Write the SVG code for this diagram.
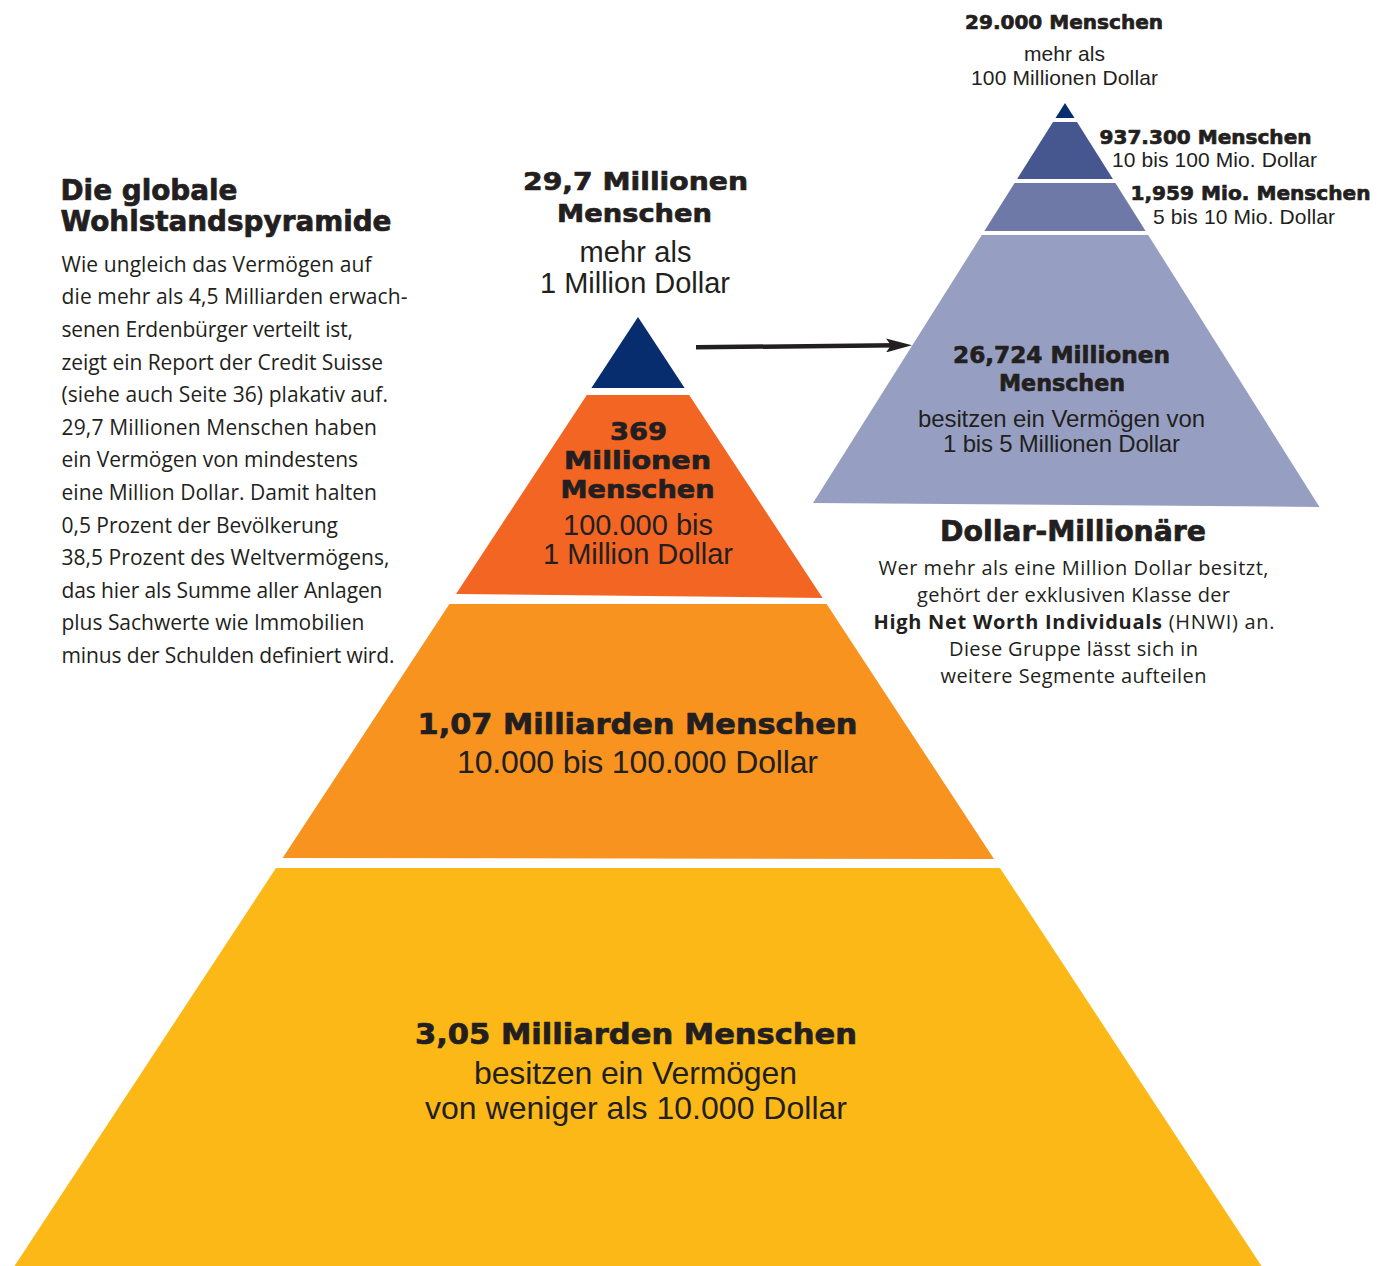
<svg xmlns="http://www.w3.org/2000/svg" width="1385" height="1266" viewBox="0 0 1385 1266">
<style>
.bg{fill:#ffffff}
.t{fill:#231f20}
.hb{font-family:"DejaVu Sans","Liberation Sans",sans-serif;font-weight:bold;stroke:#231f20;stroke-width:0.7px;stroke-linejoin:round}
.ar{font-family:"Liberation Sans",Arial,sans-serif}
.os{font-family:"Open Sans","Noto Sans",sans-serif}
.m{text-anchor:middle}
.navy{fill:#072d6e}
.or1{fill:#f26522}
.or2{fill:#f7931e}
.yel{fill:#fbb817}
.b2{fill:#45578e}
.b3{fill:#6e79a7}
.b4{fill:#969fc2}
</style>
<defs>
<marker id="ah" markerUnits="userSpaceOnUse" viewBox="0 0 26 14" refX="11" refY="7" markerWidth="26" markerHeight="14" orient="auto">
<path d="M0,0 L26,7 L0,14 L5,7 Z" fill="#231f20"/>
</marker>
</defs>
<rect class="bg" x="0" y="0" width="1385" height="1266"/>

<g id="intro">
<text class="t hb" font-size="27.5" x="60.5" y="200" textLength="177" lengthAdjust="spacingAndGlyphs">Die globale</text>
<text class="t hb" font-size="27.5" x="60.5" y="231" textLength="331" lengthAdjust="spacingAndGlyphs">Wohlstandspyramide</text>
<g class="t os" font-size="21">
<text x="61.5" y="271.7" textLength="310">Wie ungleich das Vermögen auf</text>
<text x="61.5" y="304.3" textLength="346">die mehr als 4,5 Milliarden erwach-</text>
<text x="61.5" y="336.9" textLength="291.5">senen Erdenbürger verteilt ist,</text>
<text x="61.5" y="369.5" textLength="321.5">zeigt ein Report der Credit Suisse</text>
<text x="61.5" y="402.1" textLength="326.5">(siehe auch Seite 36) plakativ auf.</text>
<text x="61.5" y="434.7" textLength="315.5">29,7 Millionen Menschen haben</text>
<text x="61.5" y="467.3" textLength="296.5">ein Vermögen von mindestens</text>
<text x="61.5" y="499.9" textLength="315.5">eine Million Dollar. Damit halten</text>
<text x="61.5" y="532.5" textLength="276.5">0,5 Prozent der Bevölkerung</text>
<text x="61.5" y="565.1" textLength="328">38,5 Prozent des Weltvermögens,</text>
<text x="61.5" y="597.7" textLength="321">das hier als Summe aller Anlagen</text>
<text x="61.5" y="630.3" textLength="303">plus Sachwerte wie Immobilien</text>
<text x="61.5" y="662.9" textLength="333">minus der Schulden definiert wird.</text>
</g>
</g>

<g id="top-main">
<polygon class="navy" points="638,317 684.6,388 591.4,388"/>
<text class="t hb m" font-size="25.5" x="635.5" y="190" textLength="225" lengthAdjust="spacingAndGlyphs">29,7 Millionen</text>
<text class="t hb m" font-size="25.5" x="634.5" y="222" textLength="155" lengthAdjust="spacingAndGlyphs">Menschen</text>
<text class="t ar m" font-size="29" x="635.5" y="262" textLength="112">mehr als</text>
<text class="t ar m" font-size="29" x="635" y="292.5" textLength="190">1 Million Dollar</text>
</g>

<g id="band-369">
<polygon class="or1" points="586.8,395 689.2,395 822.6,598 456,594"/>
<text class="t hb m" font-size="25" x="638.5" y="440" textLength="57" lengthAdjust="spacingAndGlyphs">369</text>
<text class="t hb m" font-size="25" x="637.5" y="469" textLength="147" lengthAdjust="spacingAndGlyphs">Millionen</text>
<text class="t hb m" font-size="25" x="637.5" y="498" textLength="154" lengthAdjust="spacingAndGlyphs">Menschen</text>
<text class="t ar m" font-size="29" x="638" y="535" textLength="150">100.000 bis</text>
<text class="t ar m" font-size="29" x="638" y="564" textLength="190">1 Million Dollar</text>
</g>

<g id="band-107">
<polygon class="or2" points="449.4,604 826.6,604 994,859 282.6,858"/>
<text class="t hb m" font-size="28.5" x="637.5" y="734" textLength="440" lengthAdjust="spacingAndGlyphs">1,07 Milliarden Menschen</text>
<text class="t ar m" font-size="32" x="637.5" y="773" textLength="361">10.000 bis 100.000 Dollar</text>
</g>

<g id="band-305">
<polygon class="yel" points="276,868 1000,868 1261.5,1266 14.5,1266"/>
<text class="t hb m" font-size="28.5" x="636" y="1044" textLength="442" lengthAdjust="spacingAndGlyphs">3,05 Milliarden Menschen</text>
<text class="t ar m" font-size="32" x="635.5" y="1084" textLength="323">besitzen ein Vermögen</text>
<text class="t ar m" font-size="32" x="636" y="1119" textLength="422">von weniger als 10.000 Dollar</text>
</g>

<g id="hnwi-top">
<polygon class="navy" points="1065,103 1074.5,118 1055.5,118"/>
<text class="t hb m" font-size="20" x="1064" y="29" textLength="198" lengthAdjust="spacingAndGlyphs">29.000 Menschen</text>
<text class="t ar m" font-size="21" x="1064.5" y="61" textLength="81">mehr als</text>
<text class="t ar m" font-size="21" x="1064.5" y="84.5" textLength="187">100 Millionen Dollar</text>
</g>

<g id="hnwi-937">
<polygon class="b2" points="1053,122 1077,122 1112.9,179 1017.1,179"/>
<text class="t hb" font-size="20" x="1099.5" y="144" textLength="212" lengthAdjust="spacingAndGlyphs">937.300 Menschen</text>
<text class="t ar" font-size="21" x="1112" y="167" textLength="205">10 bis 100 Mio. Dollar</text>
</g>

<g id="hnwi-1959">
<polygon class="b3" points="1014.6,183 1115.4,183 1145.6,231 984.4,231"/>
<text class="t hb" font-size="20" x="1130.5" y="200" textLength="240" lengthAdjust="spacingAndGlyphs">1,959 Mio. Menschen</text>
<text class="t ar" font-size="21" x="1153" y="223.5" textLength="182">5 bis 10 Mio. Dollar</text>
</g>

<g id="hnwi-26724">
<polygon class="b4" points="981.8,235 1148.2,235 1319.5,507 813,503"/>
<text class="t hb m" font-size="23" x="1061.5" y="363" textLength="217" lengthAdjust="spacingAndGlyphs">26,724 Millionen</text>
<text class="t hb m" font-size="23" x="1062" y="391" textLength="126" lengthAdjust="spacingAndGlyphs">Menschen</text>
<text class="t ar m" font-size="24" x="1061.5" y="427" textLength="287">besitzen ein Vermögen von</text>
<text class="t ar m" font-size="24" x="1061.5" y="452" textLength="237">1 bis 5 Millionen Dollar</text>
</g>

<g id="hnwi-text">
<text class="t hb m" font-size="27.5" x="1073" y="541" textLength="266" lengthAdjust="spacingAndGlyphs">Dollar-Millionäre</text>
<g class="t os m" font-size="20">
<text x="1073.5" y="574.5" textLength="390">Wer mehr als eine Million Dollar besitzt,</text>
<text x="1073.5" y="601.5" textLength="313">gehört der exklusiven Klasse der</text>
<text x="1074" y="628.5" textLength="401"><tspan font-weight="bold">High Net Worth Individuals</tspan> (HNWI) an.</text>
<text x="1073.5" y="655.5" textLength="249">Diese Gruppe lässt sich in</text>
<text x="1073.5" y="682.5" textLength="266">weitere Segmente aufteilen</text>
</g>
</g>

<g id="connectors">
<line x1="696" y1="347.3" x2="897" y2="345.3" stroke="#231f20" stroke-width="4.5" marker-end="url(#ah)"/>
</g>
</svg>
